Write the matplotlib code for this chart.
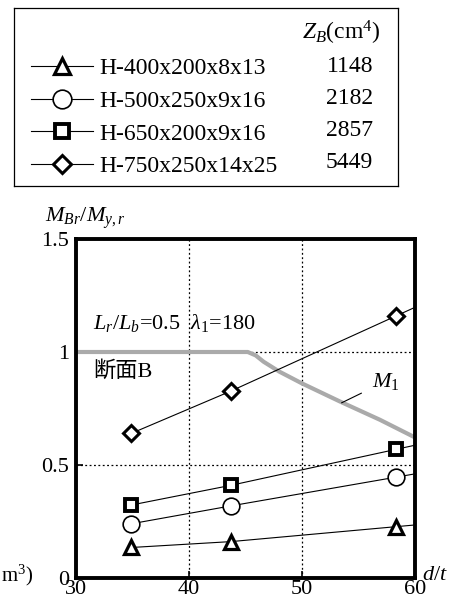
import matplotlib
matplotlib.use("Agg")
import matplotlib.pyplot as plt
import numpy as np

plt.rcParams['font.family'] = ['Liberation Serif', 'Noto Sans CJK JP']
plt.rcParams['mathtext.fontset'] = 'custom'
plt.rcParams['mathtext.rm'] = 'Liberation Serif'
plt.rcParams['mathtext.it'] = 'Liberation Serif:italic'
plt.rcParams['font.size'] = 16

# d/t des trois cas
dt = [34.9, 43.7, 58.3]

# M_Br/M_y,r pour chaque section
sections = ['H-400x200x8x13', 'H-500x250x9x16', 'H-650x200x9x16', 'H-750x250x14x25']
zb = [1148, 2182, 2857, 5449]
mbr = [
    [0.135, 0.161, 0.227],
    [0.240, 0.319, 0.446],
    [0.323, 0.410, 0.569],
    [0.640, 0.827, 1.159],
]

# courbe M1
m1_dt = [30, 45.2, 45.9, 46.6, 48.0, 50.0, 53.4, 56.9, 60]
m1_val = [1.0, 1.0, 0.985, 0.957, 0.913, 0.861, 0.780, 0.700, 0.622]

styles = [
    dict(marker='^', ms=10.5, mew=2.3),
    dict(marker='o', ms=12, mew=1.2),
    dict(marker='s', ms=8.8, mew=2.8),
    dict(marker='D', ms=8.6, mew=2.2),
]

fig = plt.figure(figsize=(4.59, 6.03), dpi=100)
ax = fig.add_axes([76/459, 1-578/603, 339/459, 339/603])

xmax = 60
handles = []
for vals, st, nom in zip(mbr, styles, sections):
    # prolongement du dernier segment jusqu'au bord
    pente = (vals[-1] - vals[-2]) / (dt[-1] - dt[-2])
    xs = dt + [xmax]
    ys = vals + [vals[-1] + pente * (xmax - dt[-1])]
    ax.plot(xs, ys, color='black', lw=0.8, zorder=3)
    ax.plot(dt, vals, ls='none', marker=st['marker'], ms=st['ms'], mew=st['mew'],
            mfc='white', mec='black', zorder=4)
    h, = ax.plot([], [], color='black', lw=0.8, marker=st['marker'], ms=st['ms'],
                 mew=st['mew'], mfc='white', mec='black')
    handles.append(h)

ax.plot(m1_dt, m1_val, color='#aaaaaa', lw=3, solid_capstyle='butt', zorder=2)

ax.set_xlim(30, 60)
ax.set_ylim(0, 1.5)
ax.set_xticks([30, 40, 50, 60])
ax.set_yticks([0, 0.5, 1, 1.5])
ax.set_yticklabels(['0', '0.5', '1', '1.5'])
ax.grid(True, color='black', ls=(0, (1.5, 2)), lw=0.9)
ax.tick_params(direction='in', length=5, width=1.2, labelsize=16)
ax.tick_params(axis='y', pad=5)
ax.tick_params(axis='x', pad=1.5)
for sp in ax.spines.values():
    sp.set_linewidth(2.8)

ax.text(31.5, 1.1, r'$L_r$/$L_b$=0.5  $\lambda_1$=180', va='baseline', fontsize=16)
ax.text(31.5, 0.916, '断面B', va='center', fontsize=16)
ax.annotate(r'$M_1$', xy=(53.5, 0.775), xytext=(57.4, 0.87), ha='center', va='center',
            fontsize=16, arrowprops=dict(arrowstyle='-', lw=0.8, shrinkA=6, shrinkB=0))

fig.text(45/459, 1-222/603, r'$M_{Br}$/$M_{y,r}$', fontsize=16, va='baseline')
fig.text(422/459, 1-576/603, r'$d/t$', fontsize=16, va='center')
fig.text(1/459, 1-575/603, r'm$^3$)', fontsize=15, va='center', ha='left')

# encadré de légende
axl = fig.add_axes([14/459, 1-186/603, 384/459, 178/603])
axl.set_xticks([])
axl.set_yticks([])
for sp in axl.spines.values():
    sp.set_linewidth(0.9)
axl.legend(handles, sections, loc='upper left', bbox_to_anchor=(0.045, 0.72),
           frameon=False, borderaxespad=0, borderpad=0, handlelength=2.6,
           handletextpad=0.3, labelspacing=0.47, fontsize=17, markerscale=1.12)
axl.text(0.953, 0.86, r'$Z_B$(cm$^4$)', ha='right', va='center', fontsize=17)
lignes = [66.7, 98.3, 131, 162.7]
for z, yl in zip(zb, lignes):
    axl.text(0.935, 1-(yl-8)/178, str(z), ha='right', va='center', fontsize=17)

fig.savefig('out.png', dpi=100)
